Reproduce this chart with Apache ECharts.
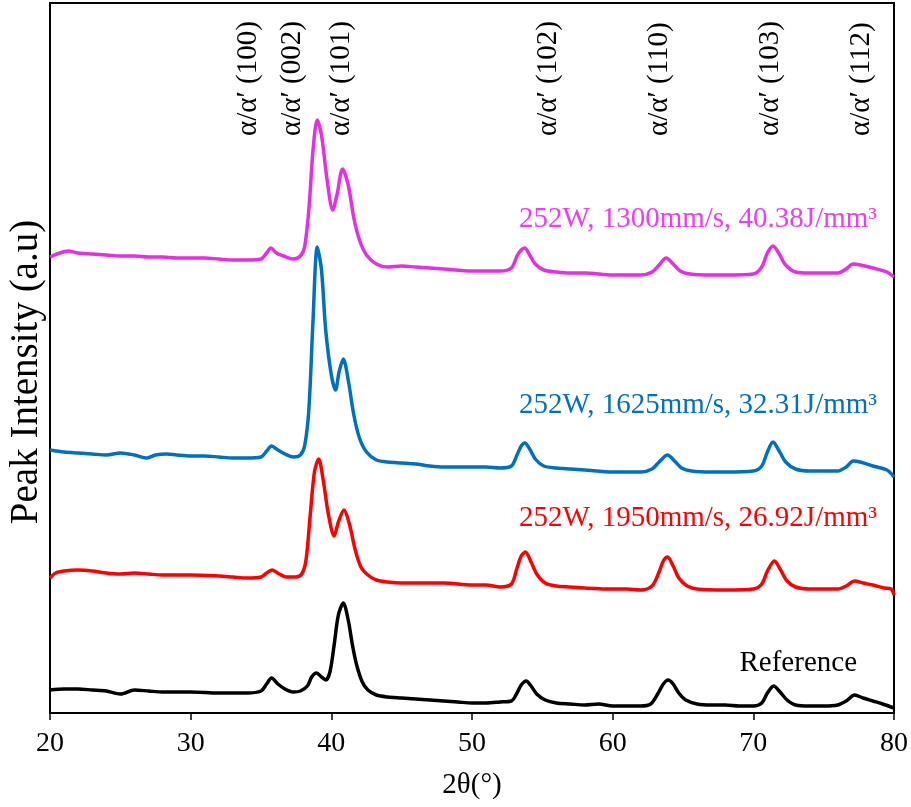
<!DOCTYPE html>
<html>
<head>
<meta charset="utf-8">
<script src="https://cdn.jsdelivr.net/npm/echarts@6/dist/echarts.min.js"></script>
<style>
  html, body { margin: 0; padding: 0; background: #fff; }
  #chart { width: 911px; height: 807px; }
</style>
</head>
<body>
<div id="chart"></div>
<script>
const FONT = "'Liberation Serif', 'Times New Roman', serif"

// 2θ (deg), intensity (a.u., curves stacked with offsets as in the figure)
const referenceCurve = [
  [20, 23], [21, 24], [22, 24], [23, 23], [24, 22], [25, 19], [26, 23], [27, 22], [28, 21], [30, 21],
  [32, 20], [34, 20], [35, 22], [35.4, 29], [35.75, 35], [36.2, 29], [36.7, 24], [37.3, 21], [37.8, 22],
  [38.3, 27], [38.6, 36], [38.95, 40], [39.3, 36], [39.6, 33], [39.9, 41], [40.2, 68], [40.5, 98],
  [40.85, 110], [41.2, 93], [41.5, 68], [41.8, 48], [42.2, 31], [42.6, 23], [43.2, 18], [44, 16],
  [45, 15], [46, 14], [47, 13], [48, 12], [49, 11], [50, 10], [51, 10], [52, 11], [52.8, 12],
  [53.2, 20], [53.5, 28], [53.85, 32], [54.2, 27], [54.6, 19], [55.2, 13], [56, 10], [57, 9], [58, 8],
  [59, 9], [60, 7], [61, 7], [62, 7], [62.7, 9], [63.2, 19], [63.6, 29], [63.95, 33], [64.3, 29],
  [64.7, 20], [65.2, 13], [66, 9], [67, 8], [68, 8], [69, 7], [70, 7], [70.6, 10], [71, 20],
  [71.45, 27], [71.9, 21], [72.4, 13], [73, 8], [74, 7], [75, 7], [76, 8], [76.6, 12], [77.2, 18],
  [77.8, 15], [78.5, 12], [79.2, 9], [80, 5]
]

const curve1950 = [
  [20, 135], [20.4, 140], [21, 142], [22, 143], [23, 142], [24, 140], [25, 139], [26, 140], [27, 139],
  [28, 138], [30, 138], [32, 137], [33, 136], [34, 135], [35, 136], [35.4, 140], [35.8, 143],
  [36.3, 139], [36.8, 136], [37.5, 136], [37.9, 139], [38.2, 153], [38.5, 198], [38.8, 241],
  [39.1, 254], [39.4, 235], [39.8, 198], [40.2, 177], [40.5, 191], [40.9, 203], [41.3, 188],
  [41.7, 163], [42.1, 146], [42.6, 138], [43.2, 133], [44, 131], [45, 130], [47, 130], [48, 130],
  [50, 128], [51, 128], [52, 126], [52.8, 129], [53.2, 145], [53.5, 157], [53.8, 161], [54.2, 151],
  [54.6, 139], [55.2, 130], [56, 127], [57, 126], [58, 125], [60, 124], [61, 124], [62, 123],
  [62.8, 127], [63.3, 141], [63.6, 152], [63.9, 156], [64.3, 147], [64.7, 135], [65.3, 127],
  [66, 124], [68, 123], [70, 124], [70.6, 129], [71, 142], [71.5, 152], [71.9, 144], [72.4, 132],
  [73, 126], [74, 124], [76, 124], [76.6, 127], [77.2, 132], [77.8, 130], [78.5, 128], [79.3, 125],
  [79.8, 124], [80, 118]
]

const curve1625 = [
  [20, 263], [21, 261], [22, 260], [23, 259], [24, 258], [25, 260], [26, 258], [26.9, 255],
  [27.5, 258], [28.3, 259], [29, 258], [30, 257], [31, 257], [32, 256], [33, 255], [34, 255],
  [35, 256], [35.4, 262], [35.75, 267], [36.2, 263], [36.7, 259], [37.3, 256], [37.8, 258],
  [38.1, 267], [38.4, 303], [38.7, 393], [39.0, 466], [39.3, 443], [39.6, 383], [40.0, 338],
  [40.3, 323], [40.55, 341], [40.85, 354], [41.2, 333], [41.6, 298], [42.0, 275], [42.5, 261],
  [43.2, 253], [44, 251], [45, 250], [46, 249], [47, 247], [48, 246], [50, 246], [51, 246], [52, 245],
  [52.8, 247], [53.2, 258], [53.5, 267], [53.75, 270], [54.1, 264], [54.5, 254], [55.1, 247],
  [56, 245], [57, 244], [58, 243], [60, 241], [62, 241], [62.8, 244], [63.3, 251], [63.9, 258],
  [64.4, 252], [64.9, 245], [65.6, 242], [67, 241], [68, 241], [70, 242], [70.6, 247], [71, 261],
  [71.4, 271], [71.8, 263], [72.3, 251], [73, 244], [74, 242], [76, 242], [76.6, 246], [77.1, 252],
  [77.6, 251], [78.5, 247], [79.5, 243], [80, 236]
]

const curve1300 = [
  [20, 456], [20.5, 459], [21.3, 462], [22, 460], [23, 459], [24, 458], [25, 457], [26, 457],
  [27, 456], [28, 456], [29, 455], [30, 455], [31, 455], [32, 454], [33, 453], [34, 453], [35, 454],
  [35.4, 460], [35.7, 465], [36.1, 460], [36.6, 457], [37.3, 454], [37.8, 457], [38.1, 466],
  [38.4, 503], [38.7, 563], [39.0, 593], [39.3, 578], [39.7, 533], [40.1, 503], [40.4, 518],
  [40.8, 544], [41.2, 528], [41.6, 495], [42.0, 473], [42.5, 458], [43.2, 449], [44, 446], [45, 447],
  [46, 446], [47, 445], [48, 444], [50, 442], [51, 442], [52, 442], [52.8, 445], [53.2, 457],
  [53.5, 463], [53.75, 465], [54.1, 458], [54.5, 449], [55.1, 443], [56, 441], [57, 440], [58, 440],
  [60, 438], [62, 438], [62.8, 441], [63.3, 448], [63.8, 455], [64.3, 449], [64.8, 442], [65.5, 439],
  [67, 438], [68, 438], [70, 439], [70.6, 446], [71, 460], [71.4, 467], [71.8, 460], [72.3, 448],
  [73, 441], [74, 440], [76, 440], [76.6, 444], [77.1, 449], [77.6, 448], [78.5, 445], [79.5, 441],
  [80, 436]
]

const peakLabels = ['α/α′ (100)', 'α/α′ (002)', 'α/α′ (101)', 'α/α′ (102)', 'α/α′ (110)', 'α/α′ (103)', 'α/α′ (112)']
const peakLabelX = [34.1, 37.2, 40.75, 55.4, 63.35, 71.2, 77.7]

const curveNames = ['Reference', '252W, 1950mm/s, 26.92J/mm³', '252W, 1625mm/s, 32.31J/mm³', '252W, 1300mm/s, 40.38J/mm³']
const lineColors = ['#000000', '#FF0000', '#0070C0', '#E52EE5']
const textColors = ['#000000', '#FF0000', '#0070C0', '#F03CF0']
const curves = [referenceCurve, curve1950, curve1625, curve1300]

const chart = echarts.init(document.getElementById('chart'))

chart.setOption({
  animation: false,
  grid: {
    left: 50, right: 17, top: 3, bottom: 94,
    containLabel: false, outerBoundsMode: 'none',
    show: true, borderColor: '#000', borderWidth: 2
  },
  xAxis: {
    type: 'value', min: 20, max: 80, interval: 10,
    name: '2θ(°)', nameLocation: 'middle', nameGap: 58,
    nameTextStyle: { fontFamily: FONT, fontSize: 29, color: '#000' },
    axisLine: { lineStyle: { color: '#000', width: 2 } },
    axisTick: { length: 7, lineStyle: { color: '#000', width: 1.5 } },
    axisLabel: { fontFamily: FONT, fontSize: 28, color: '#000', margin: 17 },
    splitLine: { show: false }
  },
  yAxis: {
    type: 'value', min: 0, max: 710,
    axisLine: { show: true, lineStyle: { color: '#000', width: 1.5 } },
    axisTick: { show: false },
    axisLabel: { show: false },
    splitLine: { show: false }
  },
  series: curves.map((d, i) => ({
    name: curveNames[i],
    type: 'line',
    data: d,
    symbol: 'none',
    smooth: 0.3,
    lineStyle: { color: lineColors[i], width: 3.5 },
    z: 2 + i
  }))
})

// y axis title, curve captions and peak indices
const graphics = [{
  type: 'text',
  x: 27, y: 372,
  rotation: Math.PI / 2,
  style: { text: 'Peak Intensity (a.u)', fill: '#000', font: `39px ${FONT}`, align: 'center', verticalAlign: 'middle' }
}]

const captionPos = [[857, 663], [877, 518], [877, 405], [877, 219]]
captionPos.forEach((p, i) => {
  graphics.push({
    type: 'text',
    x: p[0], y: p[1],
    style: {
      text: curveNames[i], fill: textColors[i], font: `29px ${FONT}`,
      align: 'right', verticalAlign: 'middle'
    }
  })
})

peakLabels.forEach((t, i) => {
  const px = chart.convertToPixel({ gridIndex: 0 }, [peakLabelX[i], 0])[0]
  graphics.push({
    type: 'text',
    x: px, y: 136,
    rotation: Math.PI / 2,
    style: { text: t, fill: '#000', font: `29px ${FONT}`, align: 'left', verticalAlign: 'middle' }
  })
})

chart.setOption({ graphic: graphics })
</script>
</body>
</html>
